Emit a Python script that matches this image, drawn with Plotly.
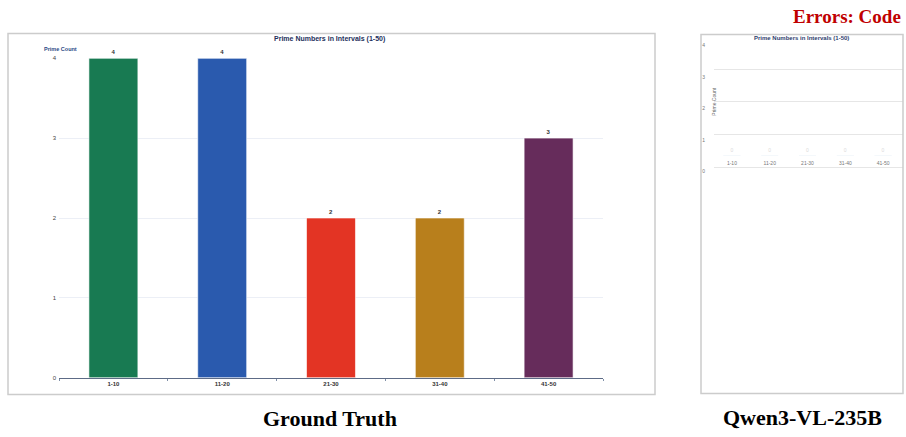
import plotly.graph_objects as go

W, H = 906, 437

# Prime counts per interval
intervals = ["1-10", "11-20", "21-30", "31-40", "41-50"]
prime_counts = [4, 4, 2, 2, 3]
bar_colors = ["#187a52", "#2a5aae", "#e33424", "#b87f1c", "#662c5b"]

# Second rendering of the same chart (empty bars)
model_counts = [0, 0, 0, 0, 0]
model_ticks = [0, 1, 2, 3, 4]

chart_title = "Prime Numbers in Intervals (1-50)"
y_label = "Prime Count"
captions = ["Ground Truth", "Qwen3-VL-235B"]
error_note = "Errors: Code"


def px_x(p):
    return p / W


def px_y(p):
    return 1 - p / H


fig = go.Figure()

# ---- left panel: reference bar chart ----
fig.add_trace(go.Bar(
    x=intervals, y=prime_counts,
    marker=dict(color=bar_colors, line=dict(color="rgba(255,255,255,0.6)", width=1)),
    width=0.45,
    text=[f"<b>{v}</b>" for v in prime_counts],
    textposition="outside",
    textfont=dict(size=6, color="#333", family="Liberation Sans"),
    cliponaxis=False,
    xaxis="x", yaxis="y",
    showlegend=False,
))

# ---- right panel: empty bars ----
fig.add_trace(go.Bar(
    x=intervals, y=model_counts,
    marker=dict(color=bar_colors),
    width=0.45,
    text=[str(v) for v in model_counts],
    textposition="outside",
    textfont=dict(size=5, color="#dadada", family="Liberation Sans"),
    cliponaxis=False,
    xaxis="x2", yaxis="y4",
    showlegend=False,
))
# axis carriers for the right panel's tick column and grid
fig.add_trace(go.Scatter(x=[], y=[], xaxis="x2", yaxis="y2", showlegend=False))
fig.add_trace(go.Scatter(x=[], y=[], xaxis="x3", yaxis="y3", showlegend=False))

fig.update_layout(
    width=W, height=H, autosize=False,
    margin=dict(l=0, r=0, t=0, b=0),
    paper_bgcolor="white", plot_bgcolor="rgba(0,0,0,0)",
    font=dict(family="Liberation Sans", color="#333"),
    xaxis=dict(
        domain=[px_x(59), px_x(603)],
        anchor="y",
        type="category",
        showgrid=False,
        showline=True, linecolor="#5d6b86", linewidth=1.2,
        ticks="outside", tickson="boundaries", ticklen=2, tickcolor="#8090a8",
        tickfont=dict(size=6, color="#333"),
        tickprefix="<b>", ticksuffix="</b>",
        zeroline=False,
    ),
    yaxis=dict(
        domain=[px_y(380), px_y(56)],
        anchor="x",
        range=[0, 4], dtick=1,
        showgrid=True, gridcolor="#eceff6", gridwidth=1,
        zeroline=False, showline=False,
        ticks="", ticklabelstandoff=2,
        tickfont=dict(size=6, color="#444"),
    ),
    xaxis2=dict(
        domain=[px_x(713), px_x(902)],
        anchor="y4",
        type="category",
        showgrid=False, showline=False, zeroline=False,
        ticks="", ticklabelstandoff=3,
        tickfont=dict(size=5, color="#777"),
    ),
    yaxis4=dict(
        domain=[px_y(155), px_y(60)],
        anchor="x2",
        range=[0, 4],
        visible=False,
    ),
    yaxis2=dict(
        domain=[px_y(171), px_y(43)],
        anchor="free", position=px_x(705),
        range=[0, 4], tickvals=model_ticks,
        showgrid=False, zeroline=False, showline=False,
        ticks="", tickfont=dict(size=5, color="#777"),
    ),
    xaxis3=dict(
        domain=[px_x(714), px_x(903)],
        anchor="y3", visible=False, range=[0, 1],
    ),
    yaxis3=dict(
        domain=[px_y(170.3), px_y(63.7)],
        anchor="x3",
        range=[-0.1, 3.1], dtick=1,
        showgrid=True, gridcolor="#e6e6e6", gridwidth=1,
        showticklabels=False, zeroline=False, showline=False, ticks="",
    ),
)

# panel frames
for x0, y0, x1, y1 in [(8, 31, 655, 397), (701, 32, 903, 396)]:
    fig.add_shape(type="rect", xref="paper", yref="paper",
                  x0=px_x(x0), x1=px_x(x1), y0=px_y(y1), y1=px_y(y0),
                  line=dict(color="#cccccc", width=1.5), fillcolor="rgba(0,0,0,0)")

annotations = [
    # left chart title and axis label
    dict(x=px_x(329), y=px_y(37), text=f"<b>{chart_title}</b>",
         font=dict(size=7, color="#23305c")),
    dict(x=px_x(60), y=px_y(47), text=f"<b>{y_label}</b>",
         font=dict(size=5.5, color="#2d4a86")),
    # right chart title and rotated axis label
    dict(x=px_x(801), y=px_y(35), text=f"<b>{chart_title}</b>",
         font=dict(size=6, color="#2d3d6e")),
    dict(x=px_x(714), y=px_y(100), text=y_label, textangle=-90,
         font=dict(size=5, color="#666")),
    # captions
    dict(x=px_x(330), y=px_y(421), text=f"<b>{captions[0]}</b>",
         font=dict(size=22, color="#000", family="Liberation Serif")),
    dict(x=px_x(802), y=px_y(420), text=f"<b>{captions[1]}</b>",
         font=dict(size=22, color="#000", family="Liberation Serif")),
    dict(x=px_x(903), y=px_y(14), xanchor="right", text=f"<b>{error_note}</b>",
         font=dict(size=19, color="#c00000", family="Liberation Serif")),
]
for a in annotations:
    a.setdefault("xanchor", "center")
    fig.add_annotation(xref="paper", yref="paper", yanchor="middle",
                       showarrow=False, **a)

fig.write_html("out.html")
